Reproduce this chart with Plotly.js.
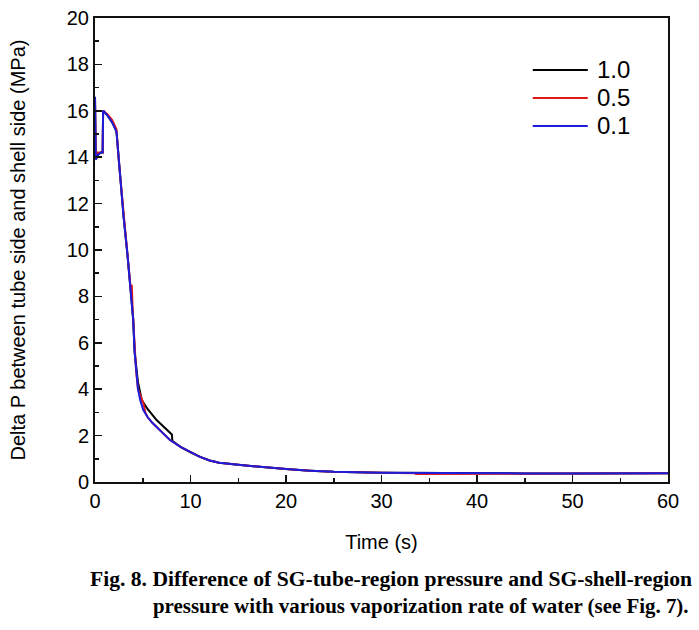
<!DOCTYPE html>
<html>
<head>
<meta charset="utf-8">
<script src="https://cdn.plot.ly/plotly-3.0.1.min.js"></script>
<style>html,body{margin:0;padding:0;background:#fff;}#chart{width:699px;height:630px;}</style>
</head>
<body>
<div id="chart"></div>
<script>
// Series names
var seriesNames = ["1.0", "0.5", "0.1"];
var seriesColors = ["#000000", "#e01818", "#1c1cdc"];

// Rate 1.0 (black)
var t10 = [0, 0.08, 0.3, 0.6, 0.8, 0.85, 1.3, 1.8, 2.25, 2.5, 3.0, 3.4, 3.75, 4.0, 4.15, 4.3, 4.5, 4.9, 5.5, 6.45, 7.3, 8.05, 8.1, 9, 10, 11, 12, 13, 15, 17.5, 20, 22.5, 25, 30, 35, 40, 45, 50, 55, 60];
var p10 = [16.6, 13.9, 14.1, 14.2, 14.2, 16.0, 15.8, 15.5, 15.1, 13.8, 11.4, 9.8, 8.3, 7.0, 5.6, 4.9, 4.3, 3.53, 3.15, 2.67, 2.35, 2.05, 1.78, 1.5, 1.28, 1.08, 0.93, 0.83, 0.74, 0.64, 0.56, 0.49, 0.44, 0.40, 0.38, 0.37, 0.37, 0.37, 0.375, 0.38];

// Rate 0.5 (red)
var t05 = [0, 0.08, 0.3, 0.6, 0.8, 0.85, 1.3, 1.8, 2.25, 2.5, 3.0, 3.4, 3.75, 3.85, 3.95, 4.15, 4.3, 4.5, 4.8, 5.06, 5.3, 5.5, 6.0, 7.0, 7.85, 9, 10, 11, 12, 13, 15, 17.5, 20, 22.5, 25, 30, 33.5, 33.6, 40, 45, 50, 55, 60];
var p05 = [16.6, 13.9, 14.2, 14.2, 14.2, 16.0, 15.85, 15.6, 15.2, 13.8, 11.4, 9.8, 8.3, 8.5, 7.4, 5.6, 4.8, 4.0, 3.7, 3.4, 2.97, 2.8, 2.55, 2.15, 1.81, 1.5, 1.28, 1.08, 0.93, 0.83, 0.74, 0.64, 0.56, 0.49, 0.44, 0.40, 0.38, 0.34, 0.35, 0.37, 0.37, 0.375, 0.38];

// Rate 0.1 (blue)
var t01 = [0, 0.08, 0.3, 0.6, 0.8, 0.85, 1.3, 1.8, 2.25, 2.5, 3.0, 3.4, 3.75, 4.0, 4.15, 4.3, 4.5, 4.75, 5.06, 5.5, 6.0, 7.0, 7.85, 9, 10, 11, 12, 13, 15, 17.5, 20, 22.5, 25, 30, 35, 40, 45, 50, 55, 60];
var p01 = [16.6, 13.9, 14.1, 14.2, 14.2, 16.0, 15.8, 15.5, 15.1, 13.8, 11.4, 9.8, 8.3, 7.0, 5.6, 4.8, 4.0, 3.5, 3.1, 2.8, 2.55, 2.15, 1.81, 1.5, 1.28, 1.08, 0.93, 0.83, 0.74, 0.64, 0.56, 0.49, 0.44, 0.40, 0.38, 0.37, 0.37, 0.37, 0.375, 0.38];

var xTickVals = [0, 10, 20, 30, 40, 50, 60];
var yTickVals = [0, 2, 4, 6, 8, 10, 12, 14, 16, 18, 20];

var captionLine1 = "Fig. 8. Difference of SG-tube-region pressure and SG-shell-region";
var captionLine2 = "pressure with various vaporization rate of water (see Fig. 7).";

var seriesData = [[t10, p10], [t05, p05], [t01, p01]];
var traces = seriesData.map(function (d, i) {
  return {x: d[0], y: d[1], name: seriesNames[i], mode: "lines", showlegend: false,
          line: {color: seriesColors[i], width: 2}};
});

var axisFont = {family: "Liberation Sans, Arial", size: 20, color: "#000"};
var axisCommon = {
  showgrid: false, zeroline: false, showline: true, linecolor: "#111", linewidth: 2,
  mirror: true, ticks: "inside", ticklen: 7, tickwidth: 1.5, tickcolor: "#111",
  tickfont: axisFont
};

// Legend drawn in paper coordinates (line sample + label per series)
var shapes = [];
var annotations = [];
var legTop = 0.888, legStep = 0.0603;   // paper y of first entry and spacing
seriesNames.forEach(function (nm, i) {
  var yy = legTop - i * legStep;
  shapes.push({type: "line", xref: "paper", yref: "paper", x0: 0.764, x1: 0.86, y0: yy, y1: yy,
               line: {color: seriesColors[i], width: 2}});
  annotations.push({xref: "paper", yref: "paper", x: 0.872, y: yy, xanchor: "left", yanchor: "middle",
                    showarrow: false, text: nm, font: {family: "Liberation Sans, Arial", size: 24, color: "#000"}});
});

annotations.push(
  {xref: "paper", yref: "paper", x: -0.012, y: -0.21, xanchor: "left", yanchor: "middle", showarrow: false,
   text: "<b>" + captionLine1 + "</b>", font: {family: "Liberation Serif, Times New Roman", size: 21.6, color: "#000"}},
  {xref: "paper", yref: "paper", x: 1.04, y: -0.268, xanchor: "right", yanchor: "middle", showarrow: false,
   text: "<b>" + captionLine2 + "</b>", font: {family: "Liberation Serif, Times New Roman", size: 20.9, color: "#000"}}
);

var layout = {
  width: 699, height: 630,
  margin: {l: 95, r: 31, t: 18, b: 148},
  paper_bgcolor: "#fff", plot_bgcolor: "#fff",
  showlegend: false,
  xaxis: Object.assign({}, axisCommon, {
    range: [0, 60], tickvals: xTickVals,
    minor: {dtick: 5, ticks: "inside", ticklen: 4, tickcolor: "#111", tickwidth: 1.5},
    title: {text: "Time (s)", font: axisFont, standoff: 24}
  }),
  yaxis: Object.assign({}, axisCommon, {
    range: [0, 20], tickvals: yTickVals,
    minor: {dtick: 1, ticks: "inside", ticklen: 4, tickcolor: "#111", tickwidth: 1.5},
    title: {text: "Delta P between tube side and shell side (MPa)", font: axisFont, standoff: 36}
  }),
  shapes: shapes,
  annotations: annotations
};

Plotly.newPlot("chart", traces, layout, {displayModeBar: false, staticPlot: true});
</script>
</body>
</html>
